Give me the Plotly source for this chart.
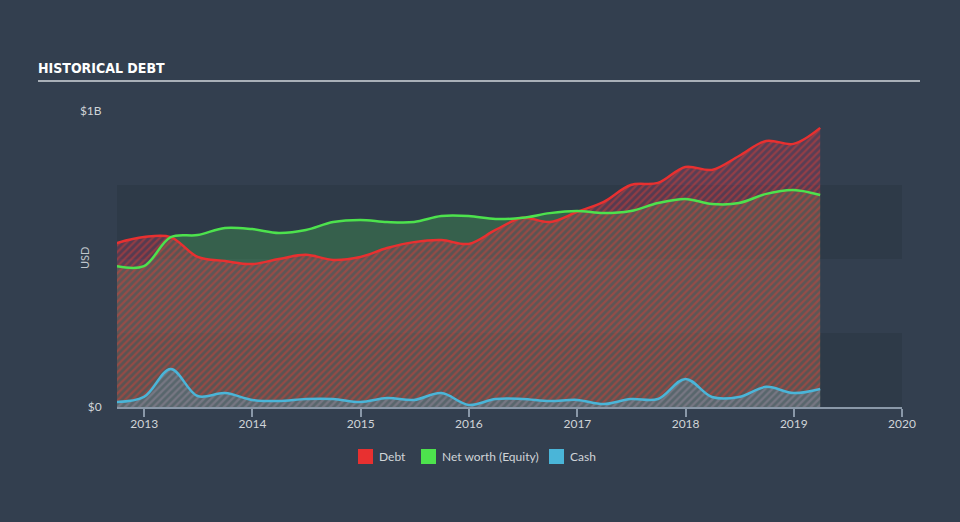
import plotly.graph_objects as go

dates = ["2012-09-30", "2012-12-31", "2013-03-31", "2013-06-30", "2013-09-30",
         "2013-12-31", "2014-03-31", "2014-06-30", "2014-09-30", "2014-12-31",
         "2015-03-31", "2015-06-30", "2015-09-30", "2015-12-31", "2016-03-31",
         "2016-06-30", "2016-09-30", "2016-12-31", "2017-03-31", "2017-06-30",
         "2017-09-30", "2017-12-31", "2018-03-31", "2018-06-30", "2018-09-30",
         "2018-12-31", "2019-03-31"]

debt = [0.554, 0.574, 0.574, 0.507, 0.493, 0.483, 0.500, 0.514, 0.497, 0.507,
        0.537, 0.557, 0.564, 0.551, 0.598, 0.639, 0.625, 0.659, 0.693, 0.750,
        0.757, 0.811, 0.801, 0.848, 0.899, 0.889, 0.943]

equity = [0.476, 0.476, 0.574, 0.581, 0.605, 0.601, 0.588, 0.598, 0.625, 0.632,
          0.625, 0.625, 0.645, 0.645, 0.635, 0.639, 0.655, 0.662, 0.655, 0.662,
          0.689, 0.703, 0.686, 0.689, 0.720, 0.733, 0.716]

cash = [0.017, 0.034, 0.128, 0.037, 0.047, 0.024, 0.020, 0.027, 0.027, 0.017,
        0.030, 0.024, 0.047, 0.007, 0.027, 0.027, 0.020, 0.024, 0.010, 0.027,
        0.027, 0.095, 0.034, 0.034, 0.068, 0.047, 0.061]

series_names = ["Debt", "Net worth (Equity)", "Cash"]
y_tickvals = [0, 1]
y_ticktext = ["$0", "$1B"]
band_edges = [(0, 0.25), (0.5, 0.75)]

RED = "#e83030"
GREEN = "#4de24d"
BLUE = "#4ab5d8"
BG = "#333f4f"
BAND = "#2e3a48"

# plot area in pixels
L, R, T, B = 117, 902, 111, 407
PW, PH = R - L, B - T


def px_x(x):
    return (x - L) / PW


def px_y(y):
    return (B - y) / PH


fig = go.Figure()

# fills
fig.add_trace(go.Scatter(x=dates, y=equity, mode="lines", fill="tozeroy",
                         line=dict(width=0, shape="spline", smoothing=1.0),
                         fillcolor="rgba(76,200,90,0.27)", showlegend=False, hoverinfo="skip"))
fig.add_trace(go.Scatter(x=dates, y=debt, mode="lines", fill="tozeroy",
                         line=dict(width=0, shape="spline", smoothing=1.0),
                         fillcolor="rgba(0,0,0,0)",
                         fillpattern=dict(shape="/", fgcolor="rgba(232,60,50,0.8)",
                                          bgcolor="rgba(160,60,95,0.35)", size=5, solidity=0.45),
                         showlegend=False, hoverinfo="skip"))
fig.add_trace(go.Scatter(x=dates, y=cash, mode="lines", fill="tozeroy",
                         line=dict(width=0, shape="spline", smoothing=1.0),
                         fillcolor="rgba(0,0,0,0)",
                         fillpattern=dict(shape="/", fgcolor="rgba(74,181,216,0.55)",
                                          bgcolor="rgba(74,181,216,0.2)", size=5, solidity=0.45),
                         showlegend=False, hoverinfo="skip"))

# lines
for vals, col in [(debt, RED), (equity, GREEN), (cash, BLUE)]:
    fig.add_trace(go.Scatter(x=dates, y=vals, mode="lines",
                             line=dict(color=col, width=2.5, shape="spline", smoothing=1.0),
                             showlegend=False))

shapes = []
for y0, y1 in band_edges:
    shapes.append(dict(type="rect", xref="paper", yref="y", x0=0, x1=1, y0=y0, y1=y1,
                       fillcolor=BAND, line=dict(width=0), layer="below"))
shapes.append(dict(type="line", xref="paper", yref="paper",
                   x0=px_x(38), x1=px_x(920), y0=px_y(81), y1=px_y(81),
                   line=dict(color="#a9b0b8", width=2)))

annotations = []
# custom legend (squares + text)
legend_sq_x = [358, 421, 549]
for name, col, sx in zip(series_names, [RED, GREEN, BLUE], legend_sq_x):
    shapes.append(dict(type="rect", xref="paper", yref="paper",
                       x0=px_x(sx), x1=px_x(sx + 15), y0=px_y(449), y1=px_y(464),
                       fillcolor=col, line=dict(width=0)))
    annotations.append(dict(text=name, xref="paper", yref="paper", x=px_x(sx + 19),
                            y=px_y(456.5), xanchor="left", yanchor="middle", showarrow=False,
                            font=dict(size=12, color="#d0d4d8")))

annotations.append(dict(text="USD", xref="paper", yref="paper", x=px_x(84), y=px_y(258),
                        xanchor="center", yanchor="middle", textangle=-90, showarrow=False,
                        font=dict(size=11, color="#c0c6cc")))

fig.update_layout(
    width=960, height=522,
    margin=dict(l=L, r=960 - R, t=T, b=522 - B),
    paper_bgcolor=BG, plot_bgcolor=BG,
    font=dict(family="Lato, Roboto, sans-serif", color="#d0d4d8", size=12),
    title=dict(text="<b>HISTORICAL DEBT</b>", xref="container", yref="container",
               x=38 / 960, xanchor="left", y=1 - 68 / 522, yanchor="middle",
               font=dict(family="Liberation Sans Narrow, DejaVu Sans Condensed, Roboto", size=14, color="#ffffff")),
    shapes=shapes,
    annotations=annotations,
    showlegend=False,
    xaxis=dict(type="date", range=["2012-10-01", "2020-01-01"], dtick="M12", tickformat="%Y",
               showgrid=False, zeroline=False, showline=True, linecolor="#8a98a8", linewidth=1.5,
               ticks="outside", ticklen=8, tickcolor="#8a98a8", tickwidth=1.5,
               ticklabelstandoff=-3,
               tickfont=dict(size=12, color="#d0d4d8")),
    yaxis=dict(range=[0, 1], tickvals=y_tickvals, ticktext=y_ticktext, showgrid=False,
               zeroline=False, showline=False, ticks="outside", ticklen=12,
               tickcolor="rgba(0,0,0,0)", tickfont=dict(size=12, color="#d0d4d8")),
)

fig.write_html("out.html")
